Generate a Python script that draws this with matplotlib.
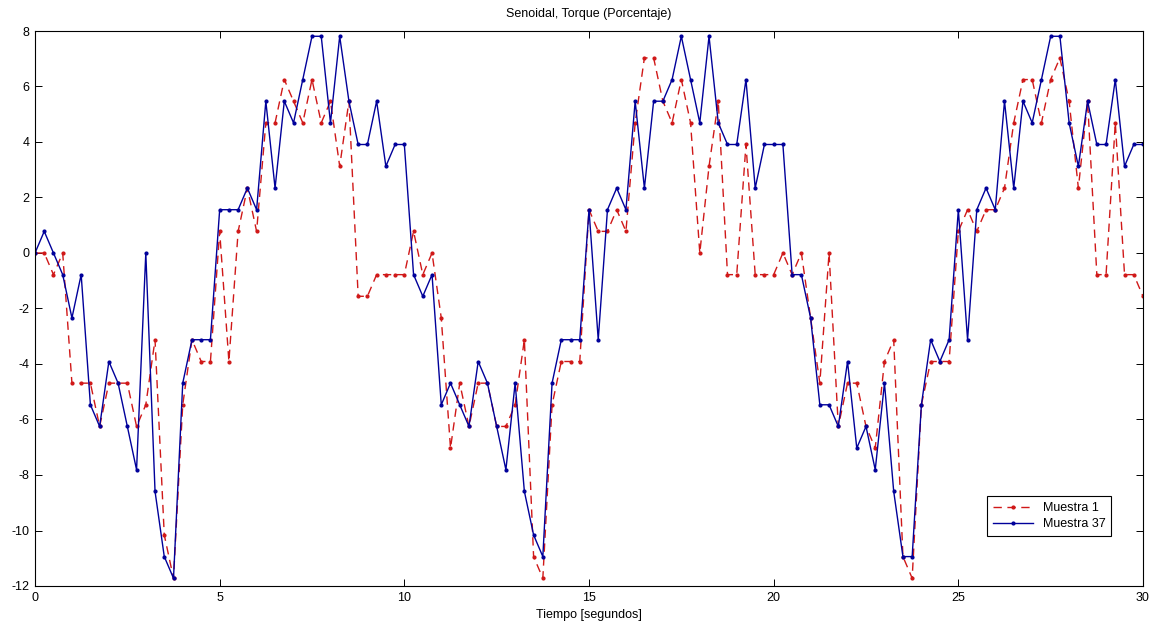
import numpy as np
import matplotlib
matplotlib.use("Agg")
import matplotlib.pyplot as plt

plt.rcParams['font.family'] = ['Liberation Sans', 'DejaVu Sans']
plt.rcParams['axes.unicode_minus'] = False

# time axis (seconds)
tiempo = np.arange(0, 30.0001, 0.25)

# Muestra 1 (red, dashed)
muestra_1 = [
    0, 0, -0.78, 0,
    -4.69, -4.69, -4.69, -6.25,
    -4.69, -4.69, -4.69, -6.25,
    -5.47, -3.125, -10.16, -11.72,
    -5.47, -3.125, -3.91, -3.91,
    0.78, -3.91, 0.78, 2.34,
    0.78, 4.69, 4.69, 6.25,
    5.47, 4.69, 6.25, 4.69,
    5.47, 3.125, 5.47, -1.56,
    -1.56, -0.78, -0.78, -0.78,
    -0.78, 0.78, -0.78, 0,
    -2.34, -7.03, -4.69, -6.25,
    -4.69, -4.69, -6.25, -6.25,
    -5.47, -3.125, -10.94, -11.72,
    -5.47, -3.91, -3.91, -3.91,
    1.56, 0.78, 0.78, 1.56,
    0.78, 4.69, 7.03, 7.03,
    5.47, 4.69, 6.25, 4.69,
    0, 3.125, 5.47, -0.78,
    -0.78, 3.91, -0.78, -0.78,
    -0.78, 0, -0.78, 0,
    -2.34, -4.69, 0, -6.25,
    -4.69, -4.69, -6.25, -7.03,
    -3.91, -3.125, -10.94, -11.72,
    -5.47, -3.91, -3.91, -3.91,
    0.78, 1.56, 0.78, 1.56,
    1.56, 2.34, 4.69, 6.25,
    6.25, 4.69, 6.25, 7.03,
    5.47, 2.34, 5.47, -0.78,
    -0.78, 4.69, -0.78, -0.78,
    -1.56,
]

# Muestra 37 (blue, solid)
muestra_37 = [
    0, 0.78, 0, -0.78,
    -2.34, -0.78, -5.47, -6.25,
    -3.91, -4.69, -6.25, -7.81,
    0, -8.59, -10.94, -11.72,
    -4.69, -3.125, -3.125, -3.125,
    1.56, 1.56, 1.56, 2.34,
    1.56, 5.47, 2.34, 5.47,
    4.69, 6.25, 7.81, 7.81,
    4.69, 7.81, 5.47, 3.91,
    3.91, 5.47, 3.125, 3.91,
    3.91, -0.78, -1.56, -0.78,
    -5.47, -4.69, -5.47, -6.25,
    -3.91, -4.69, -6.25, -7.81,
    -4.69, -8.59, -10.16, -10.94,
    -4.69, -3.125, -3.125, -3.125,
    1.56, -3.125, 1.56, 2.34,
    1.56, 5.47, 2.34, 5.47,
    5.47, 6.25, 7.81, 6.25,
    4.69, 7.81, 4.69, 3.91,
    3.91, 6.25, 2.34, 3.91,
    3.91, 3.91, -0.78, -0.78,
    -2.34, -5.47, -5.47, -6.25,
    -3.91, -7.03, -6.25, -7.81,
    -4.69, -8.59, -10.94, -10.94,
    -5.47, -3.125, -3.91, -3.125,
    1.56, -3.125, 1.56, 2.34,
    1.56, 5.47, 2.34, 5.47,
    4.69, 6.25, 7.81, 7.81,
    4.69, 3.125, 5.47, 3.91,
    3.91, 6.25, 3.125, 3.91,
    3.91,
]

xticks = [0, 5, 10, 15, 20, 25, 30]
yticks = [-12, -10, -8, -6, -4, -2, 0, 2, 4, 6, 8]

W, H = 1155, 627
fig = plt.figure(figsize=(W / 100, H / 100), dpi=100)
left, right, top, bottom = 35, 1143, 31, 586
ax = fig.add_axes([left / W, 1 - bottom / H, (right - left) / W, (bottom - top) / H])

ax.plot(tiempo, muestra_1, linestyle=(0, (6, 4)), color='#d01818', marker='.',
        markersize=4, linewidth=1.0, label='Muestra 1')
ax.plot(tiempo, muestra_37, linestyle='-', color='#00009a', marker='.',
        markersize=4, linewidth=1.0, label='Muestra 37')

ax.set_xlim(0, 30)
ax.set_ylim(-12, 8)
ax.set_xticks(xticks)
ax.set_yticks(yticks)
ax.tick_params(direction='in', top=True, right=True, length=5, width=0.7,
               labelsize=9, pad=4)
for s in ax.spines.values():
    s.set_linewidth(0.8)

ax.set_title('Senoidal, Torque (Porcentaje)', fontsize=9, pad=10)
ax.set_xlabel('Tiempo [segundos]', fontsize=9, labelpad=4)

leg = ax.legend(loc='lower right', bbox_to_anchor=(0.977, 0.079),
                fontsize=9, fancybox=False, framealpha=1, edgecolor='black',
                handlelength=3.2, borderpad=0.45, labelspacing=0.35)
leg.get_frame().set_linewidth(0.8)

fig.savefig('out.png', dpi=100)
